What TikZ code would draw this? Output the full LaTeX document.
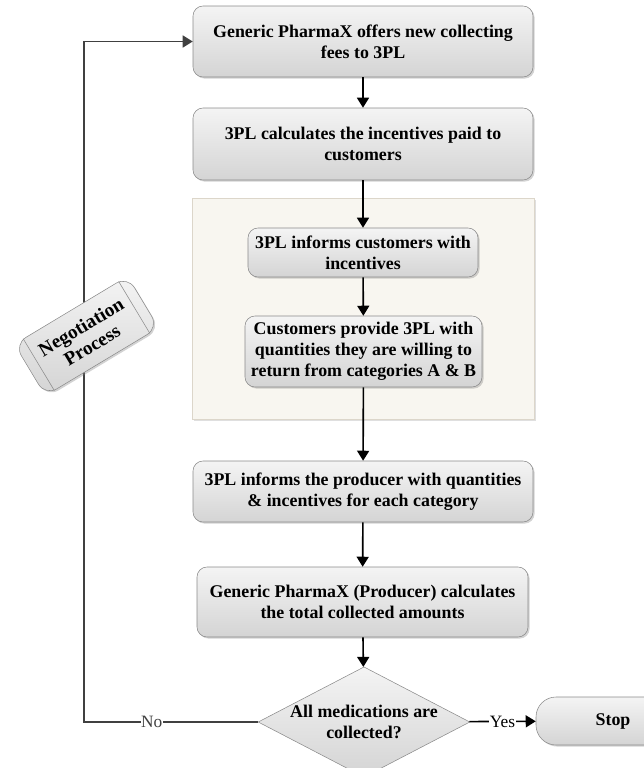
\documentclass[tikz,border=0pt]{standalone}
\usepackage{fontspec}
\setmainfont{Liberation Serif}
\usepackage{tikz}
\usetikzlibrary{arrows.meta,shapes.geometric,shadows,calc}

\definecolor{boxtop}{HTML}{F4F4F4}
\definecolor{boxbot}{HTML}{D4D4D4}
\definecolor{boxline}{HTML}{8A8A8A}
\definecolor{panelfill}{HTML}{F8F6F0}
\definecolor{panelline}{HTML}{DCD6CA}
\definecolor{loopline}{HTML}{404040}

\tikzset{
  stepbox/.style={draw=boxline,top color=boxtop,bottom color=boxbot,rounded corners=7.5pt,
    align=center,font=\bfseries\fontsize{13.4}{15.6}\selectfont,inner sep=1pt,
    drop shadow={shadow xshift=1.2pt,shadow yshift=-1.2pt,opacity=0.35}},
  panelbox/.style={draw=panelline,fill=panelfill,
    drop shadow={shadow xshift=1.5pt,shadow yshift=-1.5pt,opacity=0.25}},
  decbox/.style={diamond,draw=boxline,top color=boxtop,bottom color=boxbot,inner sep=0pt,
    align=center,font=\bfseries\fontsize{13.4}{15.6}\selectfont},
  flow/.style={very thick,-{Triangle[length=7.5pt,width=9pt]}},
  lbl/.style={fill=white,inner sep=0.5pt,font=\fontsize{13}{15}\selectfont}
}

\begin{document}
\begin{tikzpicture}[x=0.75pt,y=-0.75pt]
      \useasboundingbox (0,0) rectangle (643,768);

      % shaded group for the customer side
      \node [panelbox,minimum width=256.5pt,minimum height=165.75pt] (panel) at (363,308.5) {};

      \node [stepbox,minimum width=255pt,minimum height=53.25pt] (offer) at (363,41.5)
            {Generic PharmaX offers new collecting\\fees to 3PL};
      \node [stepbox,minimum width=255pt,minimum height=54pt] (calc) at (363,144)
            {3PL calculates the incentives paid to\\customers};
      \node [stepbox,minimum width=172.5pt,minimum height=36.75pt] (inform) at (363,252.5)
            {3PL informs customers with\\incentives};
      \node [stepbox,minimum width=177.75pt,minimum height=53.25pt] (provide) at (363.5,351.5)
            {Customers provide 3PL with\\quantities they are willing to\\return from categories A \& B};
      \node [stepbox,minimum width=255pt,minimum height=45.75pt] (producer) at (363,491.5)
            {3PL informs the producer with quantities\\\& incentives for each category};
      \node [stepbox,minimum width=248.25pt,minimum height=52.5pt] (total) at (362.5,602)
            {Generic PharmaX (Producer) calculates\\the total collected amounts};
      \node [decbox,minimum width=144pt,minimum height=75pt,aspect=1.92] (check) at (364,722)
            {All medications are\\collected?};
      \node [stepbox,rounded corners=15pt,minimum width=115.5pt,minimum height=36pt] (stop) at (613,721)
            {Stop};

      \draw [flow] (offer) -- (calc);
      \draw [flow] (calc) -- (inform);
      \draw [flow] (inform) -- (provide);
      \draw [flow] (provide) -- (producer);
      \draw [flow] (producer) -- (total);
      \draw [flow] ($(total.south)+(0.5,0)$) -- (check);
      \draw [flow] (check) -- node[lbl] {Yes} (stop);

      % loop back to the first step
      \coordinate (loop) at (84,722);
      \draw [flow,color=loopline] (check.west) -- node[lbl,pos=0.61] {No} (loop) |- (offer.west);

      \node [stepbox,rounded corners=10pt,rotate=31,minimum width=99pt,minimum height=45pt,
             font=\bfseries\fontsize{14.5}{16}\selectfont] (nego) at (86.5,336)
            {Negotiation\\Process};
      \draw [boxline] ($(nego.north west)!0.08!(nego.north east)$) -- ($(nego.south west)!0.08!(nego.south east)$);
      \draw [boxline] ($(nego.north east)!0.08!(nego.north west)$) -- ($(nego.south east)!0.08!(nego.south west)$);

\end{tikzpicture}
\end{document}
